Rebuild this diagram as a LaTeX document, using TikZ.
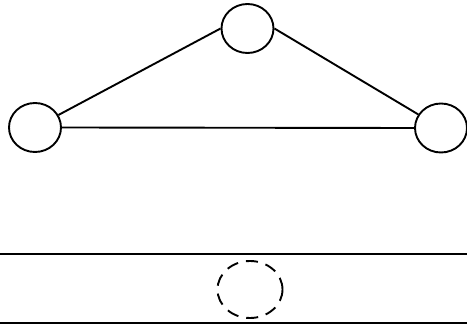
\documentclass[tikz,border=0pt]{standalone}
\usetikzlibrary{shapes.geometric}
\begin{document}
\begin{tikzpicture}[x=1pt,y=-1pt,line width=1.9pt,
  ball/.style={draw,ellipse,inner sep=0pt,minimum width=52pt,minimum height=49pt},
  ghost/.style={draw,ellipse,dash pattern=on 12pt off 8pt,inner sep=0pt,minimum width=65pt,minimum height=57pt}]
\useasboundingbox (0,0) rectangle (467,331);
\node[ball] (t) at (247.5,28.5) {};
\node[ball] (l) at (35,127.5) {};
\node[ball] (r) at (441,128) {};
\draw (t.west) -- (l);
\draw (t.east) -- (r);
\draw (l.east) -- (r.west);
\coordinate (a1) at (0,254);
\coordinate (a2) at (467,254);
\coordinate (b1) at (0,323);
\coordinate (b2) at (467,323);
\draw (a1) -- (a2);
\draw (b1) -- (b2);
\node[ghost] (g) at (250,289.5) {};
\end{tikzpicture}
\end{document}
